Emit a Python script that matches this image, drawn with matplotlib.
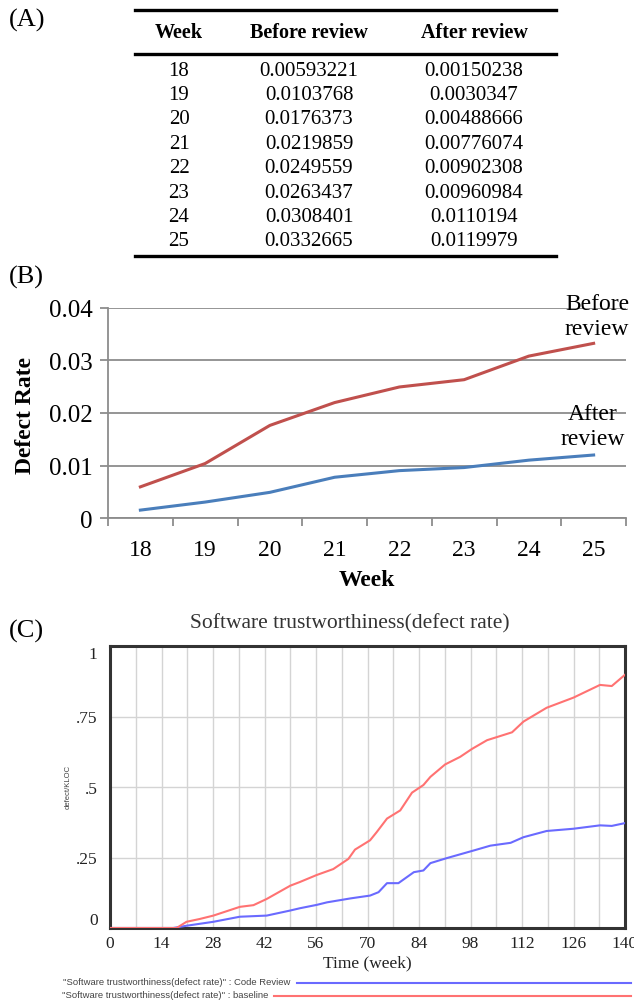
import matplotlib
matplotlib.use("Agg")
import matplotlib.pyplot as plt
from matplotlib.lines import Line2D
from matplotlib.ticker import FixedLocator, MultipleLocator

# (A) / (B) table values
weeks = [18, 19, 20, 21, 22, 23, 24, 25]
before_review = [0.00593221, 0.0103768, 0.0176373, 0.0219859,
                 0.0249559, 0.0263437, 0.0308401, 0.0332665]
after_review = [0.00150238, 0.0030347, 0.00488666, 0.00776074,
                0.00902308, 0.00960984, 0.0110194, 0.0119979]
table_header = ["Week", "Before review", "After review"]

# (C) simulation curves
baseline_weeks = [0, 17, 18.1, 20.8, 24.4, 28.1, 35.3, 39, 42.6, 49, 51.6, 56.2,
                  60.7, 64.8, 66.6, 70.7, 72.5, 75.3, 78.9, 82.1, 85.2, 87.1,
                  91.1, 95.2, 98.4, 102.5, 109.3, 112.4, 118.7, 126, 133.2,
                  136.4, 140]
baseline_rate = [0, 0, 0.0, 0.022, 0.032, 0.044, 0.075, 0.081, 0.103, 0.15,
                 0.163, 0.188, 0.209, 0.245, 0.278, 0.311, 0.34, 0.388, 0.417,
                 0.48, 0.507, 0.536, 0.58, 0.607, 0.635, 0.666, 0.694, 0.732,
                 0.781, 0.817, 0.862, 0.858, 0.898]
review_weeks = [0, 17.2, 20.8, 28.1, 35.3, 42.6, 49, 51.6, 56.2, 59, 65.4,
                70.7, 73, 75.3, 78.4, 82.6, 85.2, 87.1, 91.6, 98.9, 103.4,
                108.9, 112.4, 118.7, 126, 133.2, 136.4, 140]
review_rate = [0, 0, 0.008, 0.022, 0.04, 0.044, 0.062, 0.07, 0.082, 0.091,
               0.105, 0.115, 0.127, 0.159, 0.159, 0.198, 0.204, 0.23, 0.248,
               0.275, 0.292, 0.302, 0.322, 0.344, 0.352, 0.364, 0.362, 0.372]
time_ticks = list(range(0, 141, 14))
rate_ticks = [0, 0.25, 0.5, 0.75, 1]
rate_labels = ["0", ".25", ".5", ".75", "1"]

W, H = 634, 1003
SERIF = "Liberation Serif"


def fx(px):
    return px / W


def fy(py):
    return 1 - py / H


fig = plt.figure(figsize=(W / 100, H / 100), dpi=100)
fig.patch.set_facecolor("white")

# ---------- (A) table ----------
fig.text(fx(9), fy(20), "(A)", family=SERIF, fontsize=19, va="center")
col_x = [179, 309, 474]
for x, h in zip(col_x, table_header):
    fig.text(fx(x), fy(33), h, family=SERIF, fontsize=14.5, weight="bold",
             ha="center", va="center")
for i, (wk, b, a) in enumerate(zip(weeks, before_review, after_review)):
    y = fy(71 + i * 24.4)
    for x, s in zip(col_x, [str(wk), str(b), str(a)]):
        fig.text(fx(x), y, s, family=SERIF, fontsize=15, ha="center", va="center")
for py in [11, 55, 257]:
    fig.add_artist(Line2D([fx(135), fx(556)], [fy(py), fy(py)], color="black", lw=2.4))

# ---------- (B) line chart ----------
fig.text(fx(9), fy(277), "(B)", family=SERIF, fontsize=19, va="center")
ax_b = fig.add_axes([fx(108), fy(519), (626 - 108) / W, (519 - 309) / H])
ax_b.plot(weeks, before_review, color="#c0504d", lw=2.2, zorder=3)
ax_b.plot(weeks, after_review, color="#4a7ebb", lw=2.2, zorder=3)
ax_b.set_xlim(17.5, 25.5)
ax_b.set_ylim(0, 0.04)
ax_b.set_xticks(weeks)
ax_b.set_xticklabels([str(w) for w in weeks])
ax_b.xaxis.set_minor_locator(FixedLocator([w - 0.5 for w in weeks] + [25.5]))
ax_b.set_yticks([0, 0.01, 0.02, 0.03, 0.04])
ax_b.set_yticklabels(["0", "0.01", "0.02", "0.03", "0.04"])
ax_b.tick_params(axis="x", which="major", length=0, pad=15, labelsize=17)
ax_b.tick_params(axis="x", which="minor", length=6, width=1.3, color="#8c8c8c")
ax_b.tick_params(axis="y", length=6, width=1.3, color="#8c8c8c", pad=5, labelsize=18)
for lab in ax_b.get_xticklabels() + ax_b.get_yticklabels():
    lab.set_family(SERIF)
ax_b.yaxis.grid(True, color="#8c8c8c", lw=1.3)
ax_b.set_axisbelow(True)
for side in ["top", "right"]:
    ax_b.spines[side].set_visible(False)
for side in ["left", "bottom"]:
    ax_b.spines[side].set_color("#8c8c8c")
    ax_b.spines[side].set_linewidth(1.3)
fig.text(fx(26), fy(415), "Defect Rate", family=SERIF, fontsize=17, weight="bold",
         rotation=90, ha="center", va="center")
fig.text(fx(367), fy(580), "Week", family=SERIF, fontsize=17, weight="bold",
         ha="center", va="center")
fig.text(fx(597), fy(317), "Before\nreview", family=SERIF, fontsize=17,
         ha="center", va="center", linespacing=1.25)
fig.text(fx(593), fy(427), "After\nreview", family=SERIF, fontsize=17,
         ha="center", va="center", linespacing=1.25)

# ---------- (C) simulation ----------
fig.text(fx(9), fy(631), "(C)", family=SERIF, fontsize=19, va="center")
fig.text(fx(350), fy(624), "Software trustworthiness(defect rate)", family=SERIF,
         fontsize=15.5, color="#333333", ha="center", va="center")
ax_c = fig.add_axes([fx(110), fy(929), (625 - 110) / W, (929 - 647) / H])
ax_c.plot(review_weeks, review_rate, color="#6a6aff", lw=1.5, zorder=3)
ax_c.plot(baseline_weeks, baseline_rate, color="#ff7272", lw=1.5, zorder=3)
ax_c.set_xlim(0, 140)
ax_c.set_ylim(0, 1)
ax_c.set_xticks(time_ticks)
ax_c.xaxis.set_minor_locator(MultipleLocator(7))
ax_c.set_yticks(rate_ticks)
ax_c.set_yticklabels(rate_labels)
ax_c.tick_params(which="both", length=0)
ax_c.tick_params(axis="x", pad=5, labelsize=12.5, labelcolor="#222222")
ax_c.tick_params(axis="y", pad=9, labelsize=12.5, labelcolor="#222222")
for lab in ax_c.get_xticklabels() + ax_c.get_yticklabels():
    lab.set_family(SERIF)
ylabs = ax_c.get_yticklabels()
ylabs[0].set_va("bottom")
ylabs[-1].set_va("top")
ax_c.grid(which="both", axis="x", color="#d4d4d4", lw=1.0)
ax_c.grid(which="major", axis="y", color="#d4d4d4", lw=1.0)
ax_c.set_axisbelow(True)
for sp in ax_c.spines.values():
    sp.set_color("#333333")
    sp.set_linewidth(2.2)
fig.text(fx(367), fy(963), "Time (week)", family=SERIF, fontsize=12.5,
         color="#222222", ha="center", va="center")
fig.text(fx(68), fy(787), "defect/KLOC", family="Liberation Sans", fontsize=5.5,
         color="#444444", rotation=90, ha="center", va="center")

# legend rows under the chart
fig.text(fx(290), fy(983), "\"Software trustworthiness(defect rate)\" : Code Review",
         family="Liberation Sans", fontsize=6.8, color="#444444", ha="right", va="center")
fig.add_artist(Line2D([fx(297), fx(631)], [fy(984), fy(984)], color="#6a6aff", lw=1.5))
fig.text(fx(268), fy(996), "\"Software trustworthiness(defect rate)\" : baseline",
         family="Liberation Sans", fontsize=6.8, color="#444444", ha="right", va="center")
fig.add_artist(Line2D([fx(274), fx(631)], [fy(997), fy(997)], color="#ff7272", lw=1.5))

fig.savefig("out.png", dpi=100)
